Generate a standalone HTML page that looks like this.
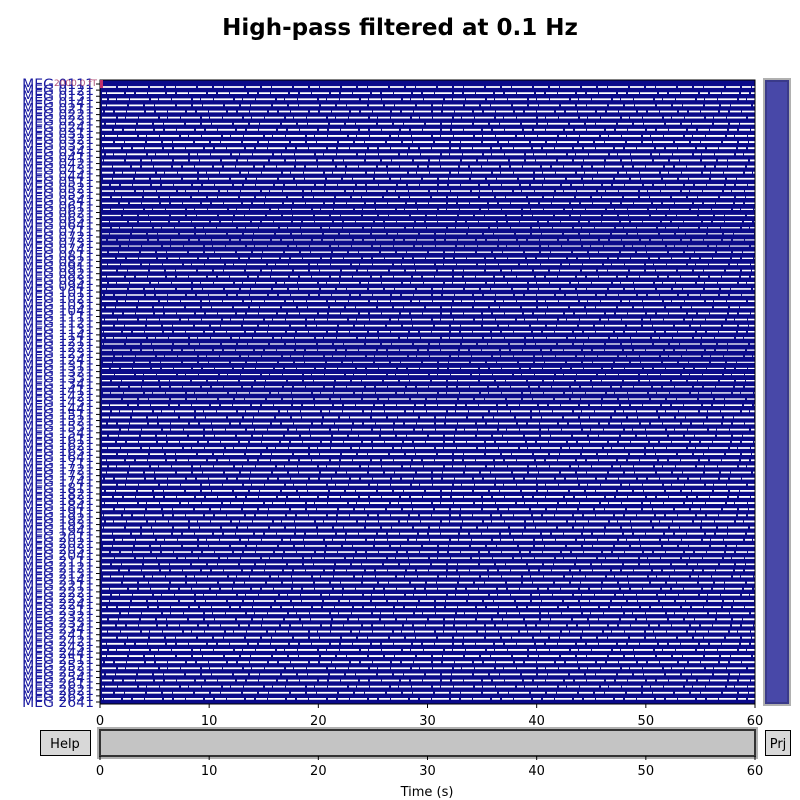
<!DOCTYPE html>
<html><head><meta charset="utf-8"><style>
html,body{margin:0;padding:0;background:#fff;width:800px;height:800px;overflow:hidden;font-family:"Liberation Sans","DejaVu Sans",sans-serif}
</style></head><body>
<svg id="fig" width="800" height="800" xmlns="http://www.w3.org/2000/svg" font-family="DejaVu Sans, Liberation Sans, sans-serif">
<text x="400" y="35" text-anchor="middle" font-size="23" font-weight="bold">High-pass filtered at 0.1 Hz</text>
<rect x="100" y="80" width="655" height="624" fill="#0b0b8a"/>
<g id="traces"></g>
<g id="ylabels"></g>
<g id="xaxis"></g>
<rect x="100" y="80" width="655" height="624" fill="none" stroke="#000" stroke-width="1"/>
<text x="97" y="86" text-anchor="end" font-size="9" fill="#b0507a">2000.0 fT</text>
<rect x="100" y="80" width="3" height="8" fill="#c0306a"/>
<rect x="763" y="78" width="28" height="628" fill="#b0b0b0"/>
<rect x="766" y="81" width="22" height="622" fill="#4848a8" stroke="#3a3a8a" stroke-width="2"/>
<rect x="40.5" y="730.5" width="50" height="25" fill="#d8d8d8" stroke="#000"/>
<text x="65" y="748" text-anchor="middle" font-size="13">Help</text>
<rect x="97" y="727" width="661" height="32" fill="#b0b0b0"/>
<rect x="100" y="730" width="655" height="26" fill="#c4c4c4" stroke="#333" stroke-width="2"/>
<rect x="765.5" y="730.5" width="25" height="25" fill="#d8d8d8" stroke="#000"/>
<text x="778" y="748" text-anchor="middle" font-size="13">Prj</text>
<g id="xaxis2"></g>
<text x="427" y="796" text-anchor="middle" font-size="13">Time (s)</text>
</svg>
<script>
const groups=["01","02","03","04","05","06","07","08","09","10","11","12","13","14","15","16","17","18","19","20","21","22","23","24","25","26"];
const channels=[];
groups.forEach(g=>{const n=g==="08"?2:4;for(let i=1;i<=n;i++)channels.push("MEG "+g+i+"1");});
// relative noise amplitude per channel (0 = quiet, 1 = very noisy), estimated
const amplitude=[0.5,0.5,0.5,0.5,0.5,0.5,0.5,0.5,0.5,0.5,0.5,0.5,0.5,0.5,0.5,0.5,0.6,0.6,0.6,0.7,0.8,0.8,0.8,0.8,0.9,0.9,0.9,0.8,0.8,0.7,0.6,0.6,0.6,0.6,0.7,0.6,0.6,0.6,0.6,0.6,0.7,0.7,0.8,0.8,0.9,0.9,0.9,0.9,0.8,0.8,0.8,0.7,0.6,0.5,0.5,0.5,0.5,0.5,0.5,0.5,0.5,0.5,0.5,0.5,0.5,0.5,0.5,0.5,0.5,0.5,0.5,0.5,0.5,0.5,0.5,0.6,0.6,0.7,0.6,0.6,0.6,0.6,0.6,0.6,0.5,0.5,0.5,0.5,0.5,0.5,0.5,0.5,0.5,0.5,0.5,0.5,0.5,0.5,0.5,0.5,0.5,0.5];
const xTicks=[0,10,20,30,40,50,60];
const x0=100,x1=755,tmax=60,yTop=84,yBot=702;
const xs=t=>x0+(x1-x0)*t/tmax;
const ys=i=>yTop+(yBot-yTop)*i/(channels.length-1);
const NS="http://www.w3.org/2000/svg";
const tr=document.getElementById('traces'),yl=document.getElementById('ylabels');
channels.forEach((c,i)=>{
  const y=ys(i);
  const gap=document.createElementNS(NS,'line');
  
  
  const gy=y+3;
  if(gy>703)return;
  gap.setAttribute('x1',x0+2);gap.setAttribute('x2',x1);
  gap.setAttribute('y1',gy);gap.setAttribute('y2',gy);
  gap.setAttribute('stroke','#fff');
  gap.setAttribute('stroke-width',(2.6-1.6*amplitude[i]).toFixed(2));
  gap.setAttribute('stroke-dasharray',(i%3===0?'14 2 9 1 20 2':i%3===1?'11 1 17 2 8 2':'19 2 7 1 12 1'));
  gap.setAttribute('stroke-dashoffset',(i*7)%30);
  tr.appendChild(gap);
});
channels.forEach((c,i)=>{
  const y=ys(i);
  const t=document.createElementNS(NS,'text');
  
  
  t.setAttribute('x',94);t.setAttribute('y',y+5);t.setAttribute('text-anchor','end');
  t.setAttribute('font-size','14');t.setAttribute('fill','#1a1aa0');
  t.textContent=c;yl.appendChild(t);
  const k=document.createElementNS(NS,'line');
  
  
  k.setAttribute('x1',96);k.setAttribute('x2',100);k.setAttribute('y1',y);k.setAttribute('y2',y);
  k.setAttribute('stroke','#000');yl.appendChild(k);
});
function axis(gid,yLine,yText){
  const g=document.getElementById(gid);
  xTicks.forEach(v=>{
    const l=document.createElementNS(NS,'line');
    
    
    l.setAttribute('x1',xs(v));l.setAttribute('x2',xs(v));l.setAttribute('y1',yLine);l.setAttribute('y2',yLine+4);
    l.setAttribute('stroke','#000');g.appendChild(l);
    const t=document.createElementNS(NS,'text');
    
    
    t.setAttribute('x',xs(v));t.setAttribute('y',yText);t.setAttribute('text-anchor','middle');t.setAttribute('font-size','13');
    t.textContent=v;g.appendChild(t);
  });
}
axis('xaxis',704,725);
axis('xaxis2',756,775);
</script>
</body></html>
